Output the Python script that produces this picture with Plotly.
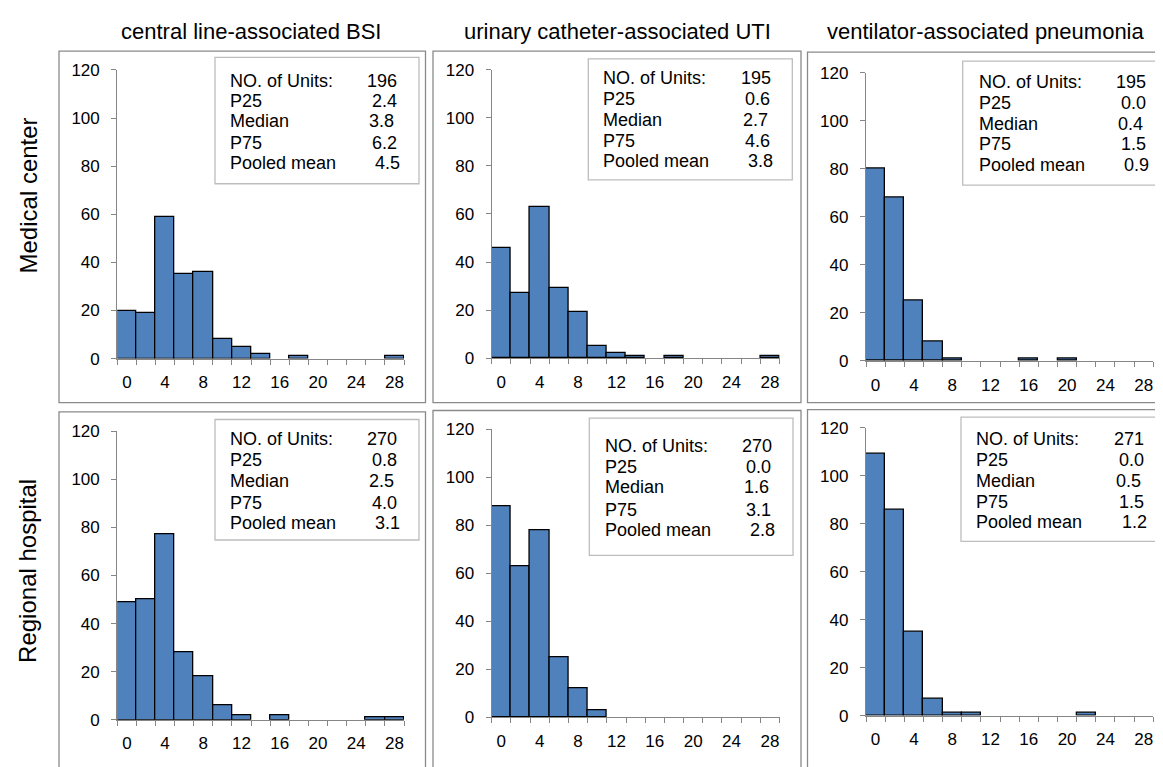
import plotly.graph_objects as go

# ---------------- data ----------------
BIN_CENTERS = [0, 2, 4, 6, 8, 10, 12, 14, 16, 18, 20, 22, 24, 26, 28]
TICK_VALUES = [0, 4, 8, 12, 16, 20, 24, 28]
TICK_LABELS = ["0", "4", "8", "12", "16", "20", "24", "28"]
Y_TICKS = [0, 20, 40, 60, 80, 100, 120]

COLUMN_TITLES = ["central line-associated BSI",
                 "urinary catheter-associated UTI",
                 "ventilator-associated pneumonia"]
ROW_TITLES = ["Medical center", "Regional hospital"]

mc_bsi = [20, 19, 59, 35, 36, 8, 5, 2, 0, 1, 0, 0, 0, 0, 1]
mc_uti = [46, 27, 63, 29, 19, 5, 2, 1, 0, 1, 0, 0, 0, 0, 1]
mc_vap = [80, 68, 25, 8, 1, 0, 0, 0, 1, 0, 1, 0, 0, 0, 0]
rh_bsi = [49, 50, 77, 28, 18, 6, 2, 0, 2, 0, 0, 0, 0, 1, 1]
rh_uti = [88, 63, 78, 25, 12, 3, 0, 0, 0, 0, 0, 0, 0, 0, 0]
rh_vap = [109, 86, 35, 7, 1, 1, 0, 0, 0, 0, 0, 1, 0, 0, 0]

STAT_LABELS = ["NO. of Units:", "P25", "Median", "P75", "Pooled mean"]
units = [196, 195, 195, 270, 270, 271]
p25 = [2.4, 0.6, 0.0, 0.8, 0.0, 0.0]
median = [3.8, 2.7, 0.4, 2.5, 1.6, 0.5]
p75 = [6.2, 4.6, 1.5, 4.0, 3.1, 1.5]
pooled_mean = [4.5, 3.8, 0.9, 3.1, 2.8, 1.2]

series = [mc_bsi, mc_uti, mc_vap, rh_bsi, rh_uti, rh_vap]

# ---------------- layout geometry (page pixels) ----------------
W, H = 1163, 767
OFF = 8  # default body margin of the html page
def fx(px):
    return (px - OFF) / W
def fy(py):
    return 1 - (py - OFF) / H

# plot areas: (x_left, x_right, y_bottom, y_top) in px
plot_areas = [
    (117.3, 404.0, 358.3, 62.3),
    (491.7, 779.5, 357.7, 62.3),
    (866.0, 1153.3, 360.7, 65.0),
    (117.3, 404.0, 728.7, 432.7),
    (491.7, 779.5, 726.0, 430.7),
    (866.0, 1153.3, 724.3, 429.3),
]
# outer frames (x0, x1, y0, y1) px
frames = [
    (59, 425.5, 43, 403.5),
    (433, 801, 43, 403.5),
    (807.5, 1180, 44, 403.5),
    (59, 425.5, 413, 790),
    (433, 801, 411.5, 790),
    (807.5, 1180, 410.5, 790),
]
# stats boxes (x0, x1, y0, y1) px
boxes = [
    (215, 419, 49.3, 179),
    (588.3, 792.3, 51, 175),
    (962.7, 1180, 53.3, 180.3),
    (215, 419, 420.7, 544.3),
    (589.3, 793, 419.3, 560),
    (961, 1180, 418.3, 545.7),
]
# stats text: label left x, value right x, row center y's
stat_text_pos = [
    (227.7, 399.0, [73.3, 94.0, 115.0, 136.7, 157.3]),
    (600.7, 772.7, [71.0, 92.3, 113.3, 135.0, 155.7]),
    (977.3, 1148.3, [74.3, 96.0, 117.3, 138.7, 160.0]),
    (227.7, 399.0, [441.0, 462.3, 483.3, 506.0, 526.7]),
    (602.7, 774.0, [448.3, 469.3, 490.0, 513.3, 534.0]),
    (974.3, 1146.0, [441.0, 462.3, 483.3, 505.0, 526.0]),
]
value_offsets = [0, -0.5, -3, -0.5, 2.5]

FONT = "Arial, Liberation Sans, sans-serif"
AXIS_COLOR = "#868686"
BAR_COLOR = "#4F81BD"

fig = go.Figure()
layout = dict(
    width=W, height=H,
    margin=dict(l=0, r=0, t=0, b=0),
    paper_bgcolor="white", plot_bgcolor="white",
    showlegend=False, bargap=0,
    font=dict(family=FONT, color="#000000", size=17),
)
shapes = []
annotations = []

for i, vals in enumerate(series):
    ax = "" if i == 0 else str(i + 1)
    xl, xr, yb, yt = plot_areas[i]
    fig.add_trace(go.Bar(
        x=BIN_CENTERS, y=[v if v else None for v in vals], width=2,
        marker=dict(color=BAR_COLOR, line=dict(color="#000000", width=1.3)),
        xaxis="x" + ax, yaxis="y" + ax, hoverinfo="x+y",
    ))
    layout["xaxis" + ax] = dict(
        domain=[fx(xl), fx(xr)], range=[-1, 29], anchor="y" + ax,
        tickmode="array", tickvals=TICK_VALUES, ticktext=TICK_LABELS,
        ticks="", showgrid=False, zeroline=False,
        showline=True, linecolor=AXIS_COLOR, linewidth=1.3,
        tickfont=dict(size=17, family=FONT, color="#000"),
        ticklabelstandoff=8,
        minor=dict(tickmode="linear", tick0=-1, dtick=2, ticks="outside",
                   ticklen=5, tickcolor=AXIS_COLOR, tickwidth=1.3, showgrid=False),
        fixedrange=True,
    )
    layout["yaxis" + ax] = dict(
        domain=[fy(yb), fy(yt)], range=[0, 120], anchor="x" + ax,
        tickmode="array", tickvals=Y_TICKS,
        ticks="outside", ticklen=5, tickcolor=AXIS_COLOR, tickwidth=1.3,
        showgrid=False, zeroline=False,
        showline=True, linecolor=AXIS_COLOR, linewidth=1.3,
        tickfont=dict(size=17, family=FONT, color="#000"),
        ticklabelstandoff=8,
        fixedrange=True,
    )
    x0, x1, y0, y1 = frames[i]
    shapes.append(dict(type="rect", xref="paper", yref="paper",
                       x0=fx(x0), x1=fx(x1), y0=fy(y1), y1=fy(y0),
                       line=dict(color="#8a8a8a", width=1.3), fillcolor="rgba(0,0,0,0)",
                       layer="below"))
    bx0, bx1, by0, by1 = boxes[i]
    shapes.append(dict(type="rect", xref="paper", yref="paper",
                       x0=fx(bx0), x1=fx(bx1), y0=fy(by1), y1=fy(by0),
                       line=dict(color="#bdbdbd", width=1.3), fillcolor="white",
                       layer="above"))
    values = [f"{units[i]}", f"{p25[i]:.1f}", f"{median[i]:.1f}",
              f"{p75[i]:.1f}", f"{pooled_mean[i]:.1f}"]
    lx, rx, rows = stat_text_pos[i]
    for k, (lab, val) in enumerate(zip(STAT_LABELS, values)):
        annotations.append(dict(xref="paper", yref="paper", x=fx(lx), y=fy(rows[k]),
                                text=lab, showarrow=False, xanchor="left", yanchor="middle",
                                font=dict(size=18, family=FONT, color="#000")))
        annotations.append(dict(xref="paper", yref="paper", x=fx(rx + value_offsets[k]),
                                y=fy(rows[k]), text=val, showarrow=False,
                                xanchor="right", yanchor="middle",
                                font=dict(size=18, family=FONT, color="#000")))

# column titles
col_centers = [250.5, 617.0, 986.5]
for t, cx in zip(COLUMN_TITLES, col_centers):
    annotations.append(dict(xref="paper", yref="paper", x=fx(cx), y=fy(23),
                            text=t, showarrow=False, xanchor="center", yanchor="middle",
                            font=dict(size=22, family=FONT, color="#000")))
# row titles
row_centers = [191, 576]
for t, cy in zip(ROW_TITLES, row_centers):
    annotations.append(dict(xref="paper", yref="paper", x=fx(28), y=fy(cy),
                            text=t, showarrow=False, textangle=-90,
                            xanchor="center", yanchor="middle",
                            font=dict(size=24, family=FONT, color="#000")))

layout["shapes"] = shapes
layout["annotations"] = annotations
fig.update_layout(**layout)
fig.write_html("out.html")
